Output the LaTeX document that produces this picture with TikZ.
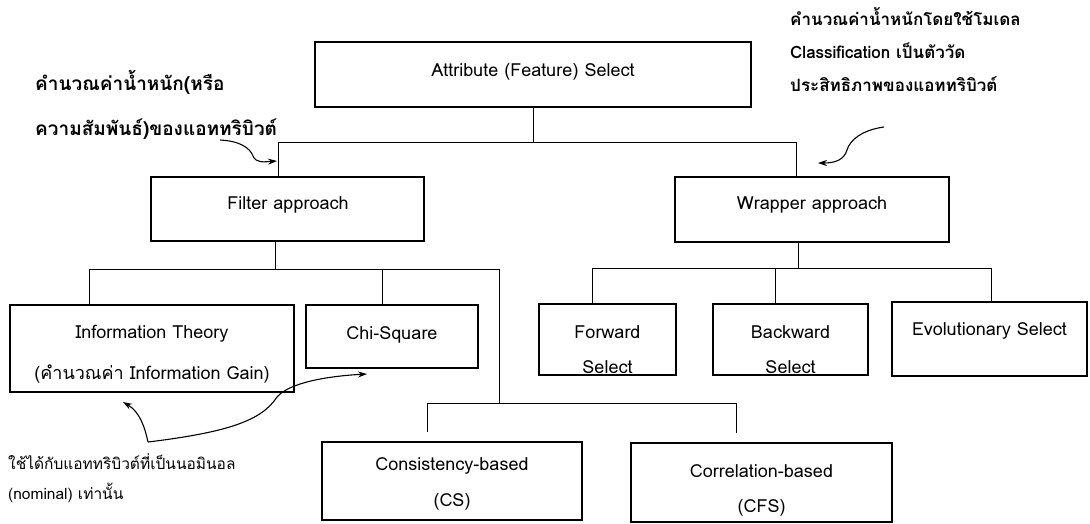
\documentclass[tikz,border=0pt]{standalone}
\usepackage{fontspec}
\setmainfont[Script=Thai]{Loma}
\usetikzlibrary{arrows.meta}
\begin{document}
\begin{tikzpicture}[x=1pt,y=-1pt,
  box/.style={draw, line width=1.3pt, inner sep=0pt},
  lbl/.style={inner sep=0pt, align=center, font=\fontsize{18}{35}\selectfont},
  link/.style={line width=1pt},
  note/.style={anchor=west, inner sep=0pt, align=left},
  curly/.style={line width=1.1pt, -{Stealth[length=9pt,width=6pt]}}]
\useasboundingbox (0,0) rectangle (1090,523);

% boxes (centre, size)
\node[box, minimum width=436pt, minimum height=65pt] (attr) at (533,74.5) {};
\node[box, minimum width=273pt, minimum height=64pt] (filter) at (287.5,209) {};
\node[box, minimum width=274pt, minimum height=65pt] (wrap) at (812,209.5) {};
\node[box, minimum width=284pt, minimum height=87pt] (info) at (152,348.5) {};
\node[box, minimum width=172pt, minimum height=63pt] (chi) at (392,336.5) {};
\node[box, minimum width=137pt, minimum height=71pt] (fwd) at (607.5,339.5) {};
\node[box, minimum width=155pt, minimum height=71pt] (bwd) at (790.5,339.5) {};
\node[box, minimum width=195pt, minimum height=74pt] (evo) at (989.5,339) {};
\node[box, minimum width=260pt, minimum height=78pt] (cs) at (452,481) {};
\node[box, minimum width=261pt, minimum height=79pt] (cfs) at (761.5,482.5) {};

% box texts
\node[lbl] (attrT) at (533,72) {Attribute (Feature) Select};
\node[lbl] (filterT) at (288,205) {Filter approach};
\node[lbl] (wrapT) at (812,205) {Wrapper approach};
\node[lbl, font=\fontsize{18}{41}\selectfont] (infoT) at (152,354.5) {Information Theory\\(คำนวณค่า Information Gain)};
\node[lbl] (chiT) at (392,335) {Chi-Square};
\node[lbl] (fwdT) at (607.5,349.5) {Forward\\Select};
\node[lbl] (bwdT) at (790.5,349.5) {Backward\\Select};
\node[lbl] (evoT) at (989.5,331) {Evolutionary Select};
\node[lbl, font=\fontsize{18}{36}\selectfont] (csT) at (452,484) {Consistency-based\\(CS)};
\node[lbl] (cfsT) at (761.5,490.5) {Correlation-based\\(CFS)};

% tree connectors
\coordinate (b1L) at (278,142);
\coordinate (b1R) at (796,142);
\draw[link] (attr.south) -- (attr.south |- b1L);
\draw[link] (b1L |- filter.north) -- (b1L) -- (b1R) -- (b1R |- wrap.north);

\coordinate (fb) at (275,269);
\coordinate (fbL) at (89,269);
\coordinate (fbR) at (499,269);
\draw[link] (fb |- filter.south) -- (fb);
\draw[link] (fbL |- info.north) -- (fbL) -- (fbR);
\draw[link] (382,269) coordinate (fbC) -- (fbC |- chi.north);

\coordinate (sbL) at (427,403);
\coordinate (sbR) at (736,403);
\draw[link] (fbR) -- (fbR |- sbL);
\draw[link] ([yshift=9pt]sbL |- cs.north) -- (sbL) -- (sbR) -- ([yshift=9pt]sbR |- cfs.north);

\coordinate (wb) at (798,268);
\coordinate (wbL) at (592,268);
\coordinate (wbM) at (775,268);
\coordinate (wbR) at (991,268);
\draw[link] (wb |- wrap.south) -- (wb);
\draw[link] (wbL |- fwd.north) -- (wbL) -- (wbR) -- (wbR |- evo.north);
\draw[link] (wbM) -- (wbM |- bwd.north);

% notes
\node[note, font=\bfseries\fontsize{19}{45}\selectfont] (noteL) at (35,104.5)
  {คำนวณค่าน้ำหนัก(หรือ\\ความสัมพันธ์)ของแอททริบิวต์};
\node[note, font=\bfseries\fontsize{17}{33}\selectfont] (noteR) at (790,49.5)
  {คำนวณค่าน้ำหนักโดยใช้โมเดล\\Classification เป็นตัววัด\\ประสิทธิภาพของแอททริบิวต์};
\node[note, font=\fontsize{15.5}{30}\selectfont] (noteB) at (8,478)
  {ใช้ได้กับแอททริบิวต์ที่เป็นนอมินอล\\(nominal) เท่านั้น};

% curly pointers
\coordinate (pL) at (220,140);
\coordinate (pR) at (884,127);
\coordinate (pB) at (148,442);
\draw[curly] (pL) .. controls (240,141) and (250,148) .. (253,156)
  .. controls (256,163) and (263,162) .. (277,161);
\draw[curly] (pR) .. controls (862,130) and (850,140) .. (847,150)
  .. controls (844,160) and (835,163) .. (818,163);
\draw[curly] (pB) .. controls (145,428) and (140,412) .. (123,402);
\draw[curly] (pB) .. controls (230,432) and (262,420) .. (277,397)
  .. controls (290,382) and (330,376) .. (367,374);
\end{tikzpicture}
\end{document}
